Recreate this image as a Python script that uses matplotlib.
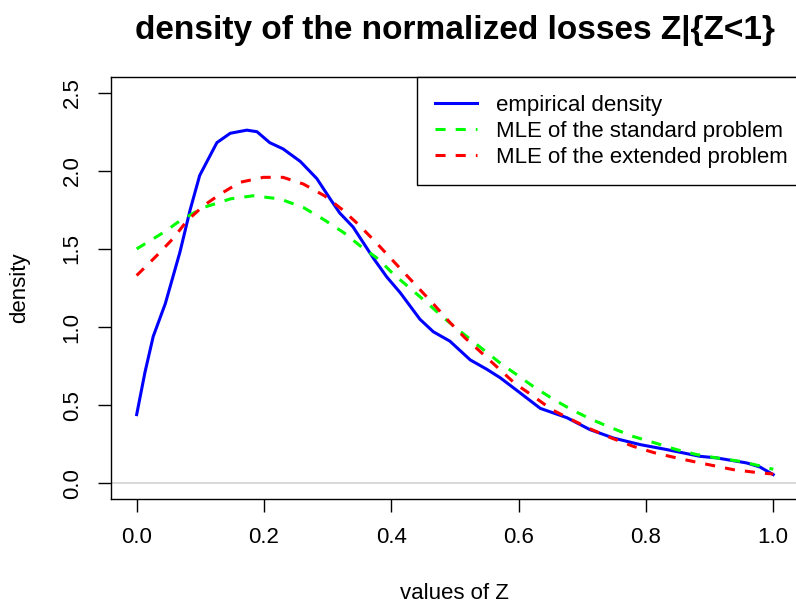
import matplotlib
matplotlib.use("Agg")
import matplotlib.pyplot as plt

# ---- data ----
emp_x = [0.000, 0.013, 0.026, 0.045, 0.068, 0.084, 0.099, 0.126, 0.147, 0.173,
         0.189, 0.209, 0.230, 0.257, 0.283, 0.304, 0.319, 0.340, 0.372, 0.393,
         0.414, 0.445, 0.466, 0.492, 0.524, 0.550, 0.571, 0.602, 0.634, 0.676,
         0.712, 0.749, 0.791, 0.833, 0.885, 0.911, 0.958, 0.979, 1.000]
emp_y = [0.44, 0.71, 0.94, 1.15, 1.48, 1.75, 1.97, 2.18, 2.24, 2.26,
         2.25, 2.18, 2.14, 2.06, 1.95, 1.82, 1.73, 1.64, 1.44, 1.32,
         1.22, 1.05, 0.97, 0.91, 0.79, 0.73, 0.676, 0.58, 0.48, 0.42,
         0.344, 0.29, 0.248, 0.216, 0.173, 0.163, 0.131, 0.105, 0.056]

std_x = [0.000, 0.042, 0.068, 0.105, 0.147, 0.183, 0.225, 0.262, 0.295, 0.325,
         0.351, 0.380, 0.403, 0.429, 0.456, 0.482, 0.511, 0.537, 0.571, 0.592,
         0.623, 0.655, 0.683, 0.715, 0.746, 0.780, 0.814, 0.848, 0.880, 0.911,
         0.948, 0.979, 1.000]
std_y = [1.50, 1.605, 1.68, 1.765, 1.82, 1.84, 1.82, 1.765, 1.685, 1.605,
         1.52, 1.434, 1.34, 1.25, 1.156, 1.06, 0.964, 0.88, 0.77, 0.71,
         0.62, 0.537, 0.472, 0.408, 0.355, 0.30, 0.259, 0.216, 0.184, 0.163,
         0.141, 0.112, 0.09]

ext_x = [0.000, 0.031, 0.058, 0.079, 0.105, 0.131, 0.162, 0.199, 0.230, 0.262,
         0.295, 0.322, 0.348, 0.374, 0.398, 0.422, 0.445, 0.469, 0.492, 0.516,
         0.539, 0.566, 0.594, 0.623, 0.652, 0.683, 0.715, 0.746, 0.780, 0.814,
         0.848, 0.880, 0.937, 0.979, 1.000]
ext_y = [1.33, 1.455, 1.57, 1.68, 1.776, 1.85, 1.926, 1.958, 1.958, 1.915,
         1.84, 1.755, 1.658, 1.55, 1.445, 1.34, 1.24, 1.135, 1.03, 0.93,
         0.846, 0.745, 0.64, 0.558, 0.472, 0.408, 0.344, 0.29, 0.237, 0.195,
         0.163, 0.135, 0.088, 0.067, 0.06]

x_ticks = [0.0, 0.2, 0.4, 0.6, 0.8, 1.0]
y_ticks = [0.0, 0.5, 1.0, 1.5, 2.0, 2.5]
labels = ["empirical density", "MLE of the standard problem", "MLE of the extended problem"]

# ---- figure ----
plt.rcParams['font.family'] = ['Liberation Sans', 'DejaVu Sans']
W, H = 796, 604
fig = plt.figure(figsize=(W / 100, H / 100), dpi=100)
left, right, top, bottom = 111.2, 798.7, 77.0, 499.0
ax = fig.add_axes([left / W, 1 - bottom / H, (right - left) / W, (bottom - top) / H])

ax.axhline(0, color='#D3D3D3', lw=1.2, zorder=1)
lw = 2.2
ax.plot(emp_x, emp_y, color='#0000FF', lw=lw, label=labels[0], zorder=3)
ax.plot(std_x, std_y, color='#00FF00', lw=lw, ls=(0, (3.3, 3.3)), label=labels[1], zorder=3)
ax.plot(ext_x, ext_y, color='#FF0000', lw=lw, ls=(0, (3.3, 3.3)), label=labels[2], zorder=3)

ax.set_xlim(-0.04, 1.04)
ax.set_ylim(-0.1, 2.6)
ax.set_xticks(x_ticks)
ax.set_xticklabels([f"{v:.1f}" for v in x_ticks])
ax.set_yticks(y_ticks)
ax.set_yticklabels([f"{v:.1f}" for v in y_ticks], rotation=90, va='center')

for s in ax.spines.values():
    s.set_linewidth(1.0)
    s.set_color('black')
ax.spines['right'].set_visible(False)
ax.tick_params(axis='both', direction='out', length=9.5, width=1.0, labelsize=16, colors='black')
ax.tick_params(axis='x', pad=11)
ax.tick_params(axis='y', pad=11)

ax.set_xlabel("values of Z", fontsize=16, labelpad=25)
ax.set_ylabel("density", fontsize=16, labelpad=23)
ax.set_title("density of the normalized losses Z|{Z<1}", fontsize=24, fontweight='bold', pad=27)

leg_x = (417 - left) / (right - left)
leg = ax.legend(loc='upper left', bbox_to_anchor=(leg_x, 0.0, 1.08 - leg_x, 1.0), mode='expand',
                fontsize=16, frameon=True, fancybox=False, edgecolor='black', framealpha=1,
                borderaxespad=0, handlelength=1.9, handletextpad=0.85, labelspacing=0.22,
                borderpad=0.8)
leg.get_frame().set_linewidth(1.0)

fig.savefig("out.png", dpi=100)
